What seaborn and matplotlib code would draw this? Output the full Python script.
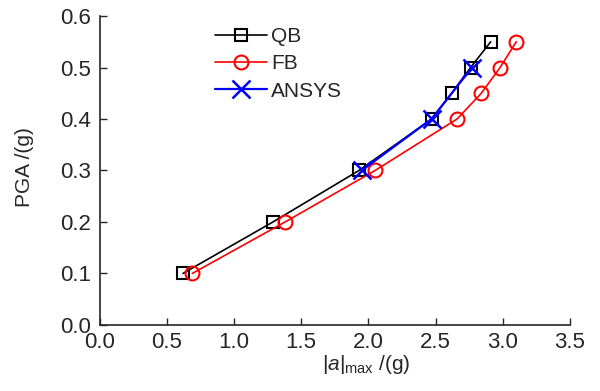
import pandas as pd
import matplotlib
matplotlib.use("Agg")
import matplotlib.pyplot as plt
import seaborn as sns

# data
pga = [0.1, 0.2, 0.3, 0.4, 0.45, 0.5, 0.55]
qb_amax = [0.62, 1.29, 1.93, 2.47, 2.62, 2.76, 2.91]
fb_amax = [0.69, 1.38, 2.05, 2.66, 2.84, 2.98, 3.10]
ansys_pga = [0.3, 0.4, 0.5]
ansys_amax = [1.95, 2.47, 2.77]

sns.set_style("ticks")
plt.rcParams['font.family'] = ['Liberation Sans', 'DejaVu Sans']
plt.rcParams['mathtext.fontset'] = 'custom'
plt.rcParams['mathtext.rm'] = 'Liberation Sans'
plt.rcParams['mathtext.it'] = 'Liberation Sans:italic'

fig = plt.figure(figsize=(6, 3.91), dpi=100)
ax = fig.add_axes([0.166, 0.169, 0.784, 0.79])

sns.lineplot(x=qb_amax, y=pga, ax=ax, color='black', marker='s', markersize=9,
             markerfacecolor='none', markeredgecolor='black', markeredgewidth=1.5,
             linewidth=1.2, sort=False, label='QB')
sns.lineplot(x=fb_amax, y=pga, ax=ax, color='red', marker='o', markersize=10,
             markerfacecolor='none', markeredgecolor='red', markeredgewidth=1.5,
             linewidth=1.2, sort=False, label='FB')
sns.lineplot(x=ansys_amax, y=ansys_pga, ax=ax, color='blue', marker='x', markersize=13,
             markeredgewidth=1.8, markeredgecolor='blue',
             linewidth=1.6, sort=False, label='ANSYS')

ax.set_xlim(0, 3.5)
ax.set_ylim(0, 0.6)
ax.set_xticks([0, 0.5, 1.0, 1.5, 2.0, 2.5, 3.0, 3.5])
ax.set_yticks([0, 0.1, 0.2, 0.3, 0.4, 0.5, 0.6])
ax.xaxis.set_major_formatter(matplotlib.ticker.FormatStrFormatter('%.1f'))
ax.yaxis.set_major_formatter(matplotlib.ticker.FormatStrFormatter('%.1f'))
ax.tick_params(direction='in', length=5, width=1, labelsize=16)
ax.tick_params(axis='x', pad=5)
ax.tick_params(axis='y', pad=6)
sns.despine(ax=ax)
for s in ['left', 'bottom']:
    ax.spines[s].set_linewidth(1.2)

ax.set_xlabel(r'$|\mathit{a}|_{\mathrm{max}}$ /(g)', fontsize=15)
ax.xaxis.set_label_coords(0.567, -0.09, transform=ax.transAxes)
ax.xaxis.label.set_va('top')
ax.set_ylabel('PGA /(g)', fontsize=15)
ax.yaxis.set_label_coords(-0.16, 0.51, transform=ax.transAxes)
ax.yaxis.label.set_va('center')

ax.legend(loc='upper left', bbox_to_anchor=(0.2455, 0.965), frameon=False,
          fontsize=15, handlelength=2.5, handletextpad=0.2, labelspacing=0.4,
          borderpad=0, borderaxespad=0)

fig.savefig('out.png', dpi=100)
